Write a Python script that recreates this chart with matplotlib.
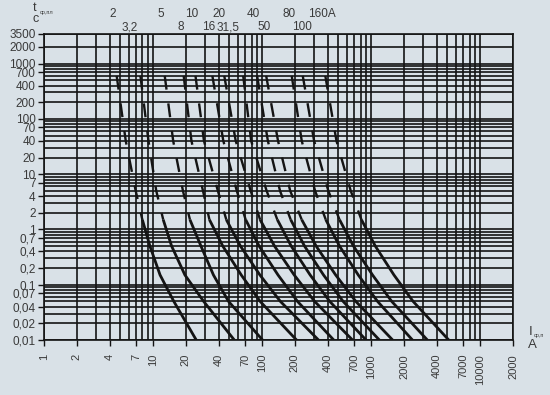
import matplotlib
matplotlib.use("Agg")
import matplotlib.pyplot as plt
from matplotlib.ticker import FixedLocator, NullFormatter

plt.rcParams['font.family'] = ['Liberation Sans', 'DejaVu Sans']
plt.rcParams['lines.scale_dashes'] = False

BG = '#d9e1e7'
INK = '#141414'
TXT = '#3a3a3a'

# fuse ratings, one curve each
ratings = ['2', '3,2', '5', '8', '10', '16', '20', '31,5', '40', '50', '80', '100', '160A']
# times (s) at which each curve was read
times = [600, 40, 5, 1.5, 0.5, 0.15, 0.05, 0.01]
# current (A) of each curve at those times
currents = [
    [4.64, 5.62, 6.93, 7.98, 9.36, 11.6, 15.5, 24.9],
    [7.66, 9.08, 10.7, 12.4, 14.8, 19.6, 29.1, 55.6],
    [12.8, 15.3, 18.8, 21.8, 27.5, 35.8, 49.2, 101],
    [19.1, 22.5, 28.7, 32.9, 43.6, 64.4, 95.9, 207],
    [24.5, 29.3, 39.3, 47.0, 63.3, 95.5, 147, 329],
    [35.0, 44.1, 58.6, 70.7, 93.9, 140, 211, 454],
    [45.0, 57.3, 78.6, 95.9, 130, 197, 303, 675],
    [67.1, 79.4, 110, 138, 185, 276, 417, 898],
    [90.0, 113, 146, 183, 245, 366, 553, 1190],
    [109, 140, 181, 231, 313, 473, 723, 1575],
    [187, 231, 306, 384, 513, 762, 1144, 2394],
    [236, 300, 405, 513, 689, 1030, 1543, 3278],
    [380, 481, 650, 815, 1092, 1619, 2424, 5150],
]
# below this time the curves are drawn solid
t_solid = 1.5

# horizontal place of the rating labels, pixels from the left edge
label_px = [113, 130, 160.5, 181, 191.5, 209, 219, 228, 253, 264.5, 289, 301.5, 321.5]

x_ticks = [1, 2, 4, 7, 10, 20, 40, 70, 100, 200, 400, 700, 1000, 2000, 4000, 7000, 10000, 20000]
x_labels = ['1', '2', '4', '7', '10', '20', '40', '70', '100', '200', '400', '700',
            '1000', '2000', '4000', '7000', '10000', '2000']
y_ticks = [0.01, 0.02, 0.04, 0.07, 0.1, 0.2, 0.4, 0.7, 1, 2, 4, 7, 10, 20, 40, 70,
           100, 200, 400, 700, 1000, 2000, 3500]
y_labels = ['0,01', '0,02', '0,04', '0,07', '0,1', '0,2', '0,4', '0,7', '1', '2', '4', '7',
            '10', '20', '40', '70', '100', '200', '400', '700', '1000', '2000', '3500']
x_minor = [m * 10 ** k for k in range(4) for m in (3, 5, 6, 8, 9)]
y_minor = [m * 10.0 ** k for k in range(-2, 3) for m in (3, 5, 6, 8, 9)]

W, H = 550, 395
fig = plt.figure(figsize=(5.5, 3.95), dpi=100, facecolor=BG)
ax = fig.add_axes([44 / W, 55 / H, 469 / W, 306.5 / H], facecolor=BG)
ax.set_xscale('log')
ax.set_yscale('log')
ax.set_xlim(1, 20000)
ax.set_ylim(0.01, 3500)

ax.xaxis.set_major_locator(FixedLocator(x_ticks))
ax.xaxis.set_minor_locator(FixedLocator(x_minor))
ax.yaxis.set_major_locator(FixedLocator(y_ticks))
ax.yaxis.set_minor_locator(FixedLocator(y_minor))
ax.set_xticklabels(x_labels, rotation=90)
ax.set_yticklabels(y_labels)
ax.xaxis.set_minor_formatter(NullFormatter())
ax.yaxis.set_minor_formatter(NullFormatter())

ax.grid(which='both', color=INK, lw=1.2)
ax.set_axisbelow(True)
ax.tick_params(which='major', direction='out', length=4, width=1.0, color=INK,
               labelcolor=TXT)
ax.tick_params(axis='x', which='major', pad=6, labelsize=8)
ax.tick_params(axis='y', which='major', pad=2, labelsize=8.5)
ax.tick_params(which='minor', length=0)
for sp in ax.spines.values():
    sp.set_color(INK)
    sp.set_linewidth(1.2)

k = times.index(t_solid)
for cur in currents:
    ax.plot(cur[:k + 1], times[:k + 1], color=INK, lw=1.7, dashes=(10, 10),
            solid_capstyle='butt', dash_capstyle='butt')
    ax.plot(cur[k:], times[k:], color=INK, lw=2.0, solid_capstyle='butt')

# rating labels, staggered on two rows
for i, (lab, px) in enumerate(zip(ratings, label_px)):
    py = 14 if i % 2 == 0 else 27
    fig.text(px / W, 1 - py / H, lab, ha='center', va='center', fontsize=8.5, color=TXT)

# axis captions
fig.text(35 / W, 1 - 8 / H, 't', ha='center', va='center', fontsize=9, color=TXT)
fig.text(39.5 / W, 1 - 12.5 / H, 'ср,пл', ha='left', va='center', fontsize=4, color=TXT)
fig.text(35.5 / W, 1 - 19 / H, 'c', ha='center', va='center', fontsize=9, color=TXT)
fig.text(531 / W, 1 - 332 / H, 'I', ha='center', va='center', fontsize=9.5, color=TXT)
fig.text(533.5 / W, 1 - 335.5 / H, 'ср,п', ha='left', va='center', fontsize=4, color=TXT)
fig.text(532 / W, 1 - 345 / H, 'A', ha='center', va='center', fontsize=9.5, color=TXT)

fig.savefig('out.png', dpi=100, facecolor=BG)
